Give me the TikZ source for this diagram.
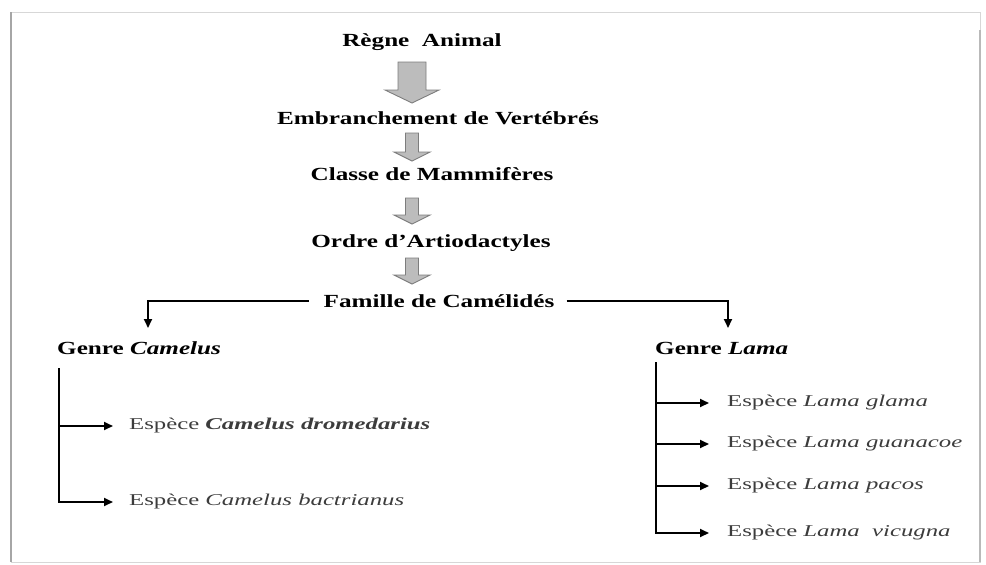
\documentclass[tikz,border=0pt]{standalone}
\usepackage{fontspec}
\setmainfont{Liberation Serif}
\newfontfamily\rangfont{Liberation Serif}[FakeStretch=1.36]
\newfontfamily\especefont{Liberation Serif}[FakeStretch=1.5]
\definecolor{FlecheGris}{RGB}{188, 188, 188}
\definecolor{BordGris}{RGB}{125, 125, 125}
\definecolor{TexteGris}{RGB}{60, 60, 60}
\definecolor{CadreGris}{RGB}{215, 215, 215}
\usetikzlibrary{arrows.meta, positioning, calc}

% grosse fleche grise : x, haut, base de la pointe, pointe, demi-tige, demi-pointe
\newcommand{\flecheBloc}[6]{%
  \filldraw[fill=FlecheGris, draw=BordGris, line width=0.9pt]
    ({#1-#5}, #2) -- ({#1+#5}, #2) -- ({#1+#5}, #3) -- ({#1+#6}, #3)
    -- (#1, #4) -- ({#1-#6}, #3) -- ({#1-#5}, #3) -- cycle;}

\tikzset{
  rang/.style={font=\rangfont\bfseries\fontsize{18.5}{20}\selectfont, inner sep=0pt},
  espece/.style={font=\especefont\fontsize{16.5}{18}\selectfont, text=TexteGris, inner sep=0pt, anchor=west},
  lien/.style={line width=2pt, -{Triangle[length=9pt, width=8pt]}},
}

\begin{document}
\begin{tikzpicture}[x=1pt, y=-1pt]
        \useasboundingbox (0,0) rectangle (986,565);

        % Cadre
        \draw[CadreGris] (11,12) rectangle (980,562);
        \draw[gray!70, line width=2pt] (11,12) -- (11,562);
        \draw[gray!55, line width=1.5pt] (980,30) -- (980,562);

        % Rangs superieurs
        \node[rang, anchor=base] (regne) at (422,46) {Règne\ \ Animal};
        \node[rang, anchor=base] (embranchement) at (438,124) {Embranchement de Vertébrés};
        \node[rang, anchor=base] (classe) at (432,180) {Classe de Mammifères};
        \node[rang, anchor=base] (ordre) at (431,247) {Ordre d’Artiodactyles};
        \node[rang, anchor=base] (famille) at (439,307) {Famille de Camélidés};

        % Fleches grises
        \flecheBloc{412}{62}{90}{103}{14}{27}
        \flecheBloc{412}{133}{152}{161}{6.5}{18}
        \foreach \haut in {198,258} {
            \flecheBloc{412}{\haut}{\haut+17}{\haut+26}{6.5}{18}
        }

        % Genres
        \node[rang, anchor=base west] (camelus) at (57,354) {Genre \textit{Camelus}};
        \node[rang, anchor=base west] (lama) at (655,354) {Genre \textit{Lama}};
        \coordinate (c-haut) at (148,328);
        \coordinate (l-haut) at (728,328);
        \draw[lien] ([xshift=-15pt]famille.west) -| (c-haut);
        \draw[lien] ([xshift=12pt]famille.east) -| (l-haut);

        % Especes du genre Camelus
        \node[espece] (dromedarius) at (129,426) {Espèce \textbf{\textit{Camelus dromedarius}}};
        \node[espece] (bactrianus) at (129,502) {Espèce \textit{Camelus bactrianus}};
        \coordinate (c-tronc) at (59,368);
        \draw[lien] (c-tronc) |- ([xshift=-16pt]bactrianus.west);
        \draw[lien] (c-tronc |- dromedarius.west) -- ([xshift=-16pt]dromedarius.west);

        % Especes du genre Lama
        \foreach \nom/\y [count=\i] in {Lama glama/403, Lama guanacoe/444, Lama pacos/486, Lama\ \ vicugna/533} {
            \node[espece] (lama\i) at (727,\y) {Espèce \textit{\nom}};
        }
        \coordinate (l-tronc) at (656,362);
        \draw[lien] (l-tronc) |- ([xshift=-18pt]lama4.west);
        \foreach \i in {1,2,3} {
            \draw[lien] (l-tronc |- lama\i.west) -- ([xshift=-18pt]lama\i.west);
        }
    \end{tikzpicture}
\end{document}
